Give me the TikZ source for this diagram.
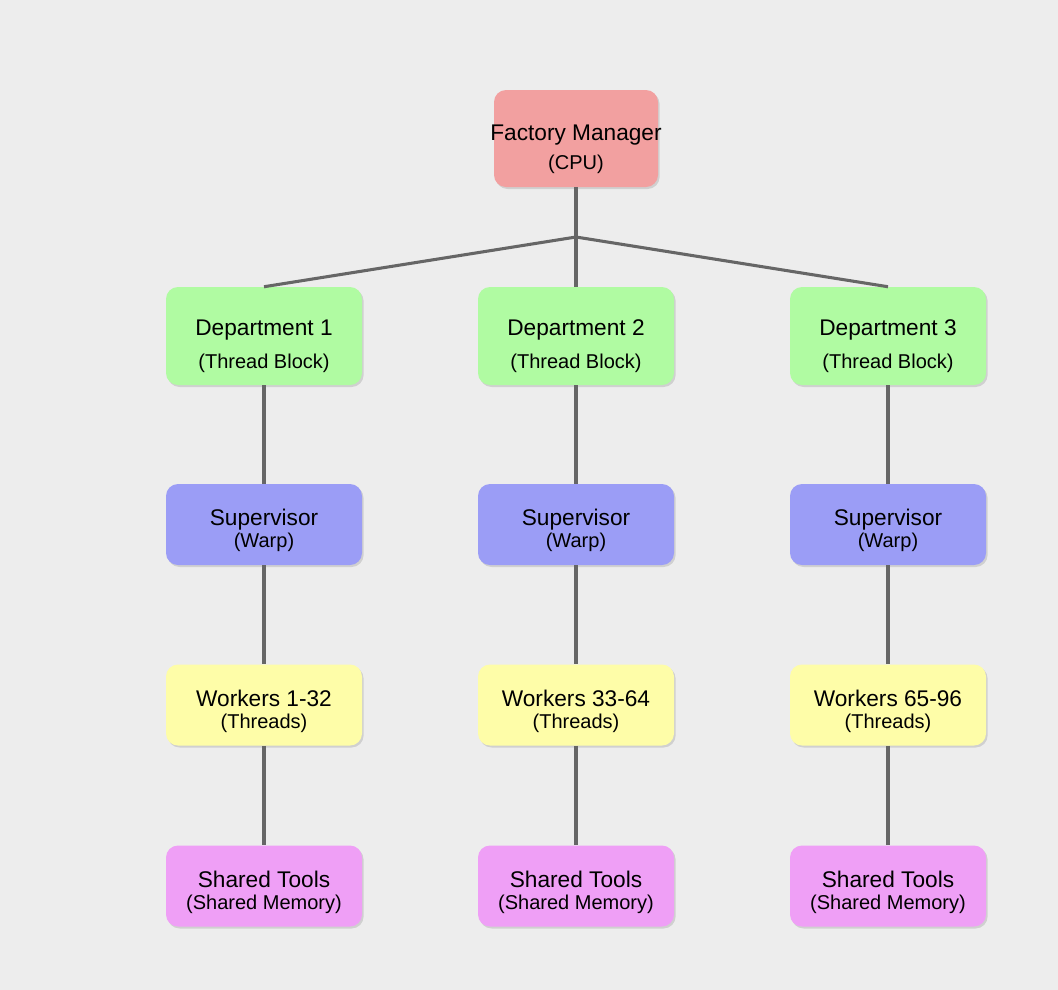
\documentclass[tikz,border=0pt]{standalone}
\usepackage{fontspec}
\setmainfont{Liberation Sans}
\usetikzlibrary{shadows}

\definecolor{bgcol}{HTML}{EDEDED}
\definecolor{mgrred}{HTML}{F2A0A0}
\definecolor{deptgreen}{HTML}{B0FBA2}
\definecolor{supblue}{HTML}{9B9DF6}
\definecolor{wrkyellow}{HTML}{FEFDA8}
\definecolor{toolpink}{HTML}{EF9FF6}
\definecolor{linkgray}{HTML}{666666}

\newcommand{\subfont}{\fontsize{15}{16.5}\selectfont}
% a taller first line pushes the text a little below the middle
\newcommand{\tallstrut}{\rule{0pt}{27.5pt}}
\newcommand{\flatstrut}{\rule{0pt}{21.5pt}}

\tikzset{
  box/.style={rectangle, rounded corners=9pt, inner sep=0pt, align=center,
    minimum width=147pt, font=\fontsize{17}{16.5}\selectfont,
    drop shadow={shadow xshift=1.2pt, shadow yshift=-1.5pt, opacity=0.12, fill=black}},
  mgr/.style={box, fill=mgrred, minimum width=123pt, minimum height=72.75pt},
  dept/.style={box, fill=deptgreen, minimum height=73.5pt},
  sup/.style={box, fill=supblue, minimum height=60.75pt},
  wrk/.style={box, fill=wrkyellow, minimum height=60.75pt},
  tool/.style={box, fill=toolpink, minimum height=60.75pt},
  link/.style={draw=linkgray, line width=2.3pt}
}

\begin{document}
\begin{tikzpicture}[x=0.75pt,y=-0.75pt]
  \fill[bgcol] (0,0) rectangle (1058,990);
  \useasboundingbox (0,0) rectangle (1058,990);

  % manager
  \node[mgr] (cpu) at (576,138.5) {\tallstrut\makebox[0pt]{Factory Manager}\\[5.25pt]{\subfont (CPU)}};
  \coordinate (hub) at (576,237);

  % departments
  \node[dept] (dept1) at (264,336) {\tallstrut Department 1\\[8.25pt]{\subfont (Thread Block)}};
  \node[dept] (dept2) at (576,336) {\tallstrut Department 2\\[8.25pt]{\subfont (Thread Block)}};
  \node[dept] (dept3) at (888,336) {\tallstrut Department 3\\[8.25pt]{\subfont (Thread Block)}};

  % supervisors
  \node[sup] (warp1) at (264,524.5) {\flatstrut Supervisor\\{\subfont (Warp)}};
  \node[sup] (warp2) at (576,524.5) {\flatstrut Supervisor\\{\subfont (Warp)}};
  \node[sup] (warp3) at (888,524.5) {\flatstrut Supervisor\\{\subfont (Warp)}};

  % workers
  \node[wrk] (thr1) at (264,705) {\flatstrut Workers 1-32\\{\subfont (Threads)}};
  \node[wrk] (thr2) at (576,705) {\flatstrut Workers 33-64\\{\subfont (Threads)}};
  \node[wrk] (thr3) at (888,705) {\flatstrut Workers 65-96\\{\subfont (Threads)}};

  % shared memory
  \node[tool] (smem1) at (264,886) {\flatstrut Shared Tools\\{\subfont (Shared Memory)}};
  \node[tool] (smem2) at (576,886) {\flatstrut Shared Tools\\{\subfont (Shared Memory)}};
  \node[tool] (smem3) at (888,886) {\flatstrut Shared Tools\\{\subfont (Shared Memory)}};

  % connectors
  \draw[link] (cpu.south) -- (hub);
  \draw[link] (hub) -- (dept1.north);
  \draw[link] (hub) -- (dept2.north);
  \draw[link] (hub) -- (dept3.north);
  \draw[link] (dept1) -- (warp1) -- (thr1) -- (smem1);
  \draw[link] (dept2) -- (warp2) -- (thr2) -- (smem2);
  \draw[link] (dept3) -- (warp3) -- (thr3) -- (smem3);
\end{tikzpicture}
\end{document}
